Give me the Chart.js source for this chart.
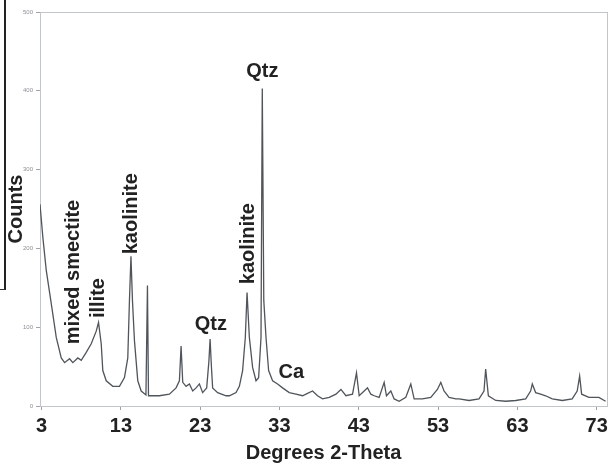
<!DOCTYPE html>
<html>
<head>
<meta charset="utf-8">
<script src="https://cdn.jsdelivr.net/npm/chart.js@4.4.1/dist/chart.umd.min.js"></script>
<style>
  body { margin: 0; background: #fff; }
  #wrap { position: relative; width: 612px; height: 468px; }
  #edge { position: absolute; left: 0; top: 0; width: 4px; height: 289px;
          border-right: 2px solid #222; border-bottom: 1px solid #333; }
</style>
</head>
<body>
<div id="wrap">
  <canvas id="xrd" width="612" height="468"></canvas>
  <div id="edge"></div>
</div>
<script>
// diffractogram, 2-theta (degrees) against counts
const twoTheta = [
  2.8, 3.16, 3.59, 4.22, 4.85, 5.48, 5.9, 6.53, 6.94, 7.57,
  8.0, 8.63, 9.26, 9.89, 10.18, 10.52, 10.72, 11.15, 11.98, 12.82,
  13.45, 13.87, 14.08, 14.27, 14.46, 14.71, 15.13, 15.56, 16.16, 16.35,
  16.48, 17.86, 19.12, 19.96, 20.38, 20.59, 20.8, 21.22, 21.64, 22.06,
  22.48, 22.9, 23.31, 23.82, 24.1, 24.25, 24.41, 24.57, 25.2, 26.26,
  26.68, 27.52, 27.94, 28.35, 28.69, 28.91, 29.2, 29.61, 30.04, 30.37,
  30.67, 30.83, 31.02, 31.3, 31.63, 32.13, 32.76, 33.39, 34.23, 35.08,
  35.91, 36.34, 37.17, 37.8, 38.43, 39.27, 40.12, 40.75, 41.38, 42.21,
  42.71, 43.05, 43.68, 44.1, 44.52, 44.94, 45.57, 46.2, 46.49, 47.04,
  47.46, 48.09, 48.93, 49.56, 49.98, 51.02, 52.08, 52.91, 53.34, 53.75,
  54.38, 55.23, 55.64, 56.9, 58.16, 58.79, 59.0, 59.34, 60.27, 61.53,
  62.79, 64.05, 64.67, 64.88, 65.3, 65.93, 66.56, 67.4, 68.66, 69.91,
  70.54, 70.85, 71.1, 72.02, 73.28, 74.12
];
const counts = [
  256, 214, 172, 130, 87, 61, 55, 60, 55, 61,
  58, 68, 79, 95, 106, 79, 45, 32, 25, 25,
  36, 61, 134, 190, 134, 83, 32, 19, 14, 153,
  13, 13, 15, 23, 32, 76, 30, 25, 28, 19,
  23, 28, 17, 23, 57, 85, 51, 23, 17, 13,
  13, 17, 25, 45, 87, 144, 87, 49, 32, 36,
  87, 403, 134, 87, 45, 32, 28, 23, 17, 15,
  13, 15, 19, 13, 9, 11, 15, 21, 13, 15,
  42, 13, 19, 23, 15, 13, 11, 30, 13, 19,
  9, 6, 11, 28, 9, 9, 11, 21, 30, 19,
  11, 9, 9, 7, 9, 19, 47, 13, 7, 6,
  7, 9, 19, 28, 17, 15, 13, 9, 7, 9,
  19, 38, 15, 11, 11, 6
];
const xTickValues = [3, 13, 23, 33, 43, 53, 63, 73];

// mineral labels: text, 2-theta and count where the label is centred
const peakNames = ['mixed smectite', 'illite', 'kaolinite', 'Qtz', 'kaolinite', 'Qtz', 'Ca'];
const peakTheta = [7.07, 10.16, 14.32, 24.35, 29.08, 30.84, 34.5];
const peakCount = [170, 137, 244, 103, 206, 424, 42];

const FONT = "'Liberation Sans', Arial, Helvetica, sans-serif";
const INK = '#222';

// thin frame round the plot like the instrument printout
const framePlugin = {
  id: 'frame',
  beforeDatasetsDraw(chart) {
    const a = chart.chartArea;
    const ctx = chart.ctx;
    ctx.save();
    ctx.strokeStyle = '#c2c6ca';
    ctx.lineWidth = 1;
    ctx.strokeRect(a.left + 0.5, a.top + 0.5, a.right - a.left, a.bottom - a.top);
    ctx.restore();
  }
};

const peakLabelPlugin = {
  id: 'peakLabels',
  afterDatasetsDraw(chart) {
    const ctx = chart.ctx;
    const xs = chart.scales.x, ys = chart.scales.y;
    ctx.save();
    ctx.fillStyle = INK;
    ctx.font = 'bold 20px ' + FONT;
    ctx.textAlign = 'center';
    ctx.textBaseline = 'middle';
    peakNames.forEach((name, i) => {
      const px = xs.getPixelForValue(peakTheta[i]);
      const py = ys.getPixelForValue(peakCount[i]);
      // short names sit level, the long ones run up the page
      if (name.length <= 3) {
        ctx.fillText(name, px, py);
      } else {
        ctx.save();
        ctx.translate(px, py);
        ctx.rotate(-Math.PI / 2);
        ctx.fillText(name, 0, 0);
        ctx.restore();
      }
    });
    ctx.restore();
  }
};

new Chart(document.getElementById('xrd'), {
  type: 'line',
  data: {
    datasets: [{
      data: twoTheta.map((t, i) => ({ x: t, y: counts[i] })),
      borderColor: '#4f555b',
      borderWidth: 1.3,
      pointRadius: 0,
      tension: 0
    }]
  },
  options: {
    responsive: false,
    animation: false,
    layout: { padding: { top: 12, right: 5, left: 0, bottom: 0 } },
    plugins: { legend: { display: false }, tooltip: { enabled: false } },
    scales: {
      x: {
        type: 'linear',
        min: 2.8,
        max: 74.3,
        afterBuildTicks: (scale) => { scale.ticks = xTickValues.map(v => ({ value: v })); },
        afterFit: (scale) => { scale.height = 62; },
        ticks: {
          font: { family: FONT, size: 20, weight: 'bold' },
          color: INK,
          padding: 4,
          maxRotation: 0,
          autoSkip: false
        },
        grid: { drawOnChartArea: false, tickLength: 4, color: '#9aa0a6' },
        border: { color: '#a0a4a8' },
        title: {
          display: true,
          text: 'Degrees 2-Theta',
          font: { family: FONT, size: 20, weight: 'bold' },
          color: INK,
          padding: { top: 0, bottom: 3 }
        }
      },
      y: {
        min: 0,
        max: 500,
        afterFit: (scale) => { scale.width = 40; },
        ticks: { stepSize: 100, font: { family: FONT, size: 6 }, color: '#8a8e92', padding: 3 },
        grid: { drawOnChartArea: false, tickLength: 4, color: '#a0a4a8' },
        border: { color: '#a0a4a8' },
        title: {
          display: true,
          text: 'Counts',
          font: { family: FONT, size: 20, weight: 'bold' },
          color: INK,
          padding: { top: 4, bottom: 0 }
        }
      }
    }
  },
  plugins: [framePlugin, peakLabelPlugin]
});
</script>
</body>
</html>
